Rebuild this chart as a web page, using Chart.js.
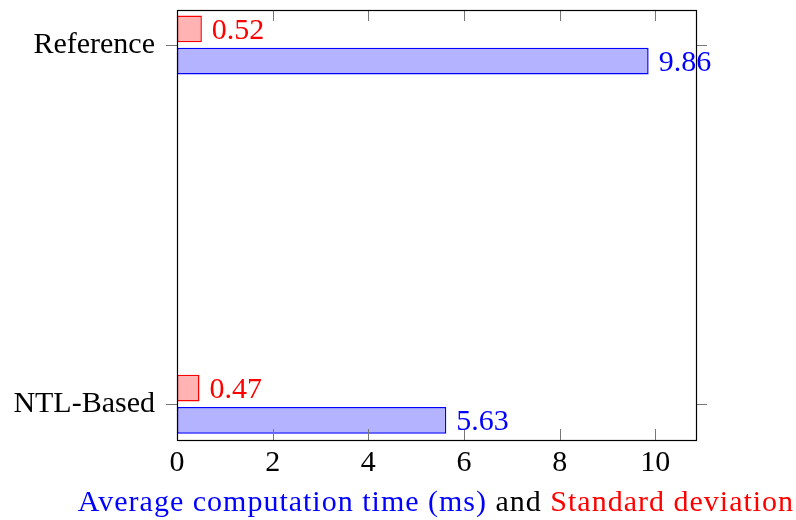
<!DOCTYPE html>
<html lang="en">
<head>
    <meta charset="UTF-8">
    <script src="https://cdn.jsdelivr.net/npm/chart.js"></script>
    <title>Computation time</title>
    <style>
        body {
            margin: 0;
            background: #ffffff;
            overflow: hidden;
        }
        .wrap {
            position: relative;
            width: 796px;
            height: 520px;
        }
        .caption {
            position: absolute;
            left: 36px;
            width: 800px;
            top: 486px;
            text-align: center;
            white-space: nowrap;
            font-family: "Liberation Serif", serif;
            font-size: 30px;
            line-height: 30px;
            letter-spacing: 1px;
            color: #000;
        }
        .blue { color: #0000ff; }
        .red { color: #ff0000; }
    </style>
</head>
<body>
    <div class="wrap">
        <canvas id="timeChart" width="796" height="520"></canvas>
        <div class="caption">
            <span class="blue">Average computation time (ms)</span> and <span class="red">Standard deviation</span>
        </div>
    </div>

    <script>
        // data
        const methods = ["Reference", "NTL-Based"];
        const avgTime = [9.86, 5.63];
        const stdDev = [0.52, 0.47];
        const xTicks = [0, 2, 4, 6, 8, 10];

        const serif = "Liberation Serif";

        // one point per method, placed at index 0, 1 on the y axis
        function points(values) {
            return values.map((v, i) => ({ x: v, y: i }));
        }

        // box around the plot, pgfplots style ticks, value labels
        const decor = {
            id: "decor",
            afterDatasetsDraw(chart) {
                const ctx = chart.ctx;
                const a = chart.chartArea;
                const xs = chart.scales.x;
                const ys = chart.scales.y;
                ctx.save();

                // tick marks
                ctx.strokeStyle = "#777";
                ctx.lineWidth = 1;
                ctx.beginPath();
                xTicks.forEach(t => {
                    const px = Math.round(xs.getPixelForValue(t)) + 0.5;
                    ctx.moveTo(px, a.bottom);
                    ctx.lineTo(px, a.bottom - 11);
                    ctx.moveTo(px, a.top);
                    ctx.lineTo(px, a.top + 11);
                });
                methods.forEach((m, i) => {
                    const py = Math.round(ys.getPixelForValue(i)) + 0.5;
                    ctx.moveTo(a.left, py);
                    ctx.lineTo(a.left - 11, py);
                    ctx.moveTo(a.right, py);
                    ctx.lineTo(a.right + 11, py);
                });
                ctx.stroke();

                // frame
                ctx.strokeStyle = "#000";
                ctx.lineWidth = 1.2;
                ctx.strokeRect(Math.round(a.left) + 0.5, Math.round(a.top) + 0.5,
                    Math.round(a.right - a.left), Math.round(a.bottom - a.top));

                // values at the end of each bar
                ctx.font = "30px '" + serif + "'";
                ctx.textAlign = "left";
                ctx.textBaseline = "alphabetic";
                chart.data.datasets.forEach((ds, di) => {
                    const meta = chart.getDatasetMeta(di);
                    ctx.fillStyle = ds.borderColor;
                    meta.data.forEach((el, i) => {
                        ctx.fillText(ds.data[i].x.toFixed(2), el.x + 10, el.y + 10);
                    });
                });
                ctx.restore();
            }
        };

        const ctx1 = document.getElementById("timeChart").getContext("2d");
        new Chart(ctx1, {
            type: "bar",
            data: {
                datasets: [
                    {
                        label: "Standard deviation",
                        data: points(stdDev),
                        backgroundColor: "rgb(255, 179, 179)",
                        borderColor: "rgb(255, 0, 0)",
                        borderWidth: 1.5,
                        borderSkipped: false
                    },
                    {
                        label: "Average computation time (ms)",
                        data: points(avgTime),
                        backgroundColor: "rgb(179, 179, 255)",
                        borderColor: "rgb(0, 0, 255)",
                        borderWidth: 1.5,
                        borderSkipped: false
                    }
                ]
            },
            options: {
                indexAxis: "y",
                responsive: false,
                animation: false,
                categoryPercentage: 0.18,
                barPercentage: 0.83,
                layout: {
                    padding: { left: 0, right: 100, top: 10, bottom: 0 }
                },
                plugins: {
                    legend: { display: false },
                    tooltip: { enabled: false }
                },
                scales: {
                    x: {
                        type: "linear",
                        position: "bottom",
                        min: 0,
                        max: 10.85,
                        grid: { display: false },
                        border: { display: false },
                        afterFit: s => { s.height = 80; },
                        afterBuildTicks: s => { s.ticks = xTicks.map(v => ({ value: v })); },
                        ticks: {
                            padding: -3,
                            color: "#000",
                            font: { family: serif, size: 30 },
                            callback: v => v
                        }
                    },
                    y: {
                        type: "linear",
                        reverse: true,
                        offset: false,
                        min: -0.0975,
                        max: 1.0995,
                        grid: { display: false, offset: false },
                        border: { display: false },
                        afterFit: s => {
                            s.width = 177;
                            s.paddingTop = 0;
                            s.paddingBottom = 0;
                        },
                        afterBuildTicks: s => { s.ticks = methods.map((m, i) => ({ value: i })); },
                        ticks: {
                            padding: 14,
                            color: "#000",
                            font: { family: serif, size: 30 },
                            callback: v => methods[v]
                        }
                    }
                }
            },
            plugins: [decor]
        });
    </script>
</body>
</html>
